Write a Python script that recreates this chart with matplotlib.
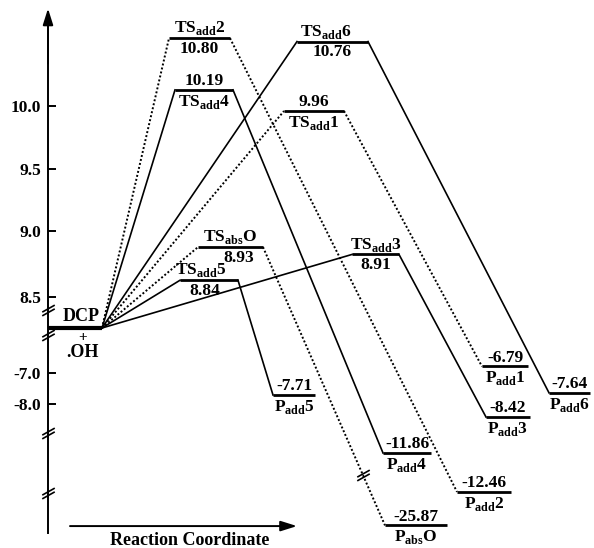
import numpy as np
import matplotlib
matplotlib.use('Agg')
import matplotlib.pyplot as plt
from matplotlib.path import Path
from matplotlib.transforms import blended_transform_factory

plt.rcParams['font.family'] = ['Liberation Serif', 'DejaVu Serif']
plt.rcParams['font.weight'] = 'bold'
plt.rcParams['mathtext.fontset'] = 'custom'
plt.rcParams['mathtext.rm'] = 'Liberation Serif:bold'
plt.rcParams['mathtext.bf'] = 'Liberation Serif:bold'
plt.rcParams['axes.unicode_minus'] = False

# Relative energies (kcal/mol) with respect to DCP + .OH
reactant_energy = 0.0
paths = ['add2', 'add4', 'add6', 'add1', 'absO', 'add5', 'add3']
ts_names = [r'TS$_{\rm add}$2', r'TS$_{\rm add}$4', r'TS$_{\rm add}$6', r'TS$_{\rm add}$1',
            r'TS$_{\rm abs}$O', r'TS$_{\rm add}$5', r'TS$_{\rm add}$3']
p_names = [r'P$_{\rm add}$2', r'P$_{\rm add}$4', r'P$_{\rm add}$6', r'P$_{\rm add}$1',
           r'P$_{\rm abs}$O', r'P$_{\rm add}$5', r'P$_{\rm add}$3']
ts_energy = [10.80, 10.19, 10.76, 9.96, 8.93, 8.84, 8.91]
p_energy = [-12.46, -11.86, -7.64, -6.79, -25.87, -7.71, -8.42]
ytick_values = [10.0, 9.5, 9.0, 8.5, -7.0, -8.0]
ytick_labels = ['10.0', '9.5', '9.0', '8.5', '-7.0', '-8.0']

# layout: name above the TS level (else the value), dotted or solid path, x spans
ts_name_above = [True, False, True, False, True, True, True]
dotted = [True, False, False, True, True, False, False]
ts_span = [(169, 230), (175, 233), (297, 368), (284, 344), (198, 263), (180, 238), (352, 399)]
p_span = [(457, 511), (383, 431), (549, 590), (482, 528), (385, 447), (273, 315), (486, 530)]
# small horizontal nudges (points) of the upper / lower TS labels to keep them apart
ts_dx_above = [0, 0, -5, 0, 0, -6, 0]
ts_dx_below = [0, 0, 0, 0, 6, -3, 0]
dcp_span = (48, 102)

# broken, schematic energy axis: piecewise linear scale (energy -> pixel from top)
scale_e = np.array([-60.0, -27.0, -25.5, -12.6, -11.7, -8.5, -6.6, 0.0,
                    8.3, 8.5, 8.8, 8.96, 10.0, 11.25, 20.0])
scale_px = np.array([1208, 548, 518, 501, 442.6, 419.5, 360.6, 328,
                     310, 297, 295, 236, 106, 0, -742])


def fwd(e):
    return -np.interp(e, scale_e, scale_px)


def inv(v):
    return np.interp(-v, scale_px[::-1], scale_e[::-1])


fig = plt.figure(figsize=(5.94, 5.48), dpi=100)
ax = fig.add_axes([0, 0, 1, 1])
ax.set_yscale('function', functions=(fwd, inv))
ax.set_xlim(0, 594)
ax.set_ylim(-27.0, 11.25)
for s in ['top', 'right', 'bottom']:
    ax.spines[s].set_visible(False)
ax.spines['left'].set_position(('data', 48))
ax.spines['left'].set_bounds(-26.25, 11.0)
ax.spines['left'].set_linewidth(1.4)
ax.set_xticks([])
ax.set_yticks(ytick_values, ytick_labels)
ax.minorticks_off()
ax.tick_params(axis='y', direction='in', length=6, width=1.4, pad=5, labelsize=12.5)

arrow_kw = dict(arrowstyle='-|>,head_length=0.7,head_width=0.22', color='k', lw=1.4,
                mutation_scale=14, shrinkA=0, shrinkB=0)
ax.annotate('', xy=(48, 11.15), xytext=(48, 10.5), arrowprops=arrow_kw)
ax.annotate('', xy=(297, 0.04), xytext=(70, 0.04), xycoords=('data', 'axes fraction'),
            textcoords=('data', 'axes fraction'), arrowprops=arrow_kw)
ax.text(190, 0.014, 'Reaction Coordinate', transform=blended_transform_factory(ax.transData, ax.transAxes),
        ha='center', va='center', fontsize=13)

# reactant level
ax.plot(dcp_span, [reactant_energy] * 2, color='k', lw=3, solid_capstyle='butt', zorder=4)
dcp_x = np.mean(dcp_span)
ax.annotate('DCP', (dcp_x, reactant_energy), xytext=(4.3, 2), textcoords='offset points',
            ha='center', va='bottom', fontsize=13)
ax.annotate('+', (dcp_x, reactant_energy), xytext=(5.5, -7.2), textcoords='offset points',
            ha='center', va='center', fontsize=11)
ax.annotate('.OH', (dcp_x, reactant_energy), xytext=(5.5, -20.6), textcoords='offset points',
            ha='center', va='baseline', fontsize=13)

for i in range(len(paths)):
    if dotted[i]:
        line_kw = dict(ls=(0, (1, 1.1)), lw=1.4)
    else:
        line_kw = dict(ls='-', lw=1.2)
    ts_l, ts_r = ts_span[i]
    p_l, p_r = p_span[i]
    ax.plot([dcp_span[1], ts_l], [reactant_energy, ts_energy[i]], color='k', zorder=2, **line_kw)
    ax.plot([ts_r, p_l], [ts_energy[i], p_energy[i]], color='k', zorder=2, **line_kw)
    ax.plot([ts_l, ts_r], [ts_energy[i]] * 2, color='k', lw=2, solid_capstyle='butt', zorder=3)
    ax.plot([p_l, p_r], [p_energy[i]] * 2, color='k', lw=2, solid_capstyle='butt', zorder=3)

    ts_c = (ts_l + ts_r) / 2
    value = f'{ts_energy[i]:.2f}'
    above, below = (ts_names[i], value) if ts_name_above[i] else (value, ts_names[i])
    ax.annotate(above, (ts_c, ts_energy[i]), xytext=(ts_dx_above[i], 0.6), textcoords='offset points',
                ha='center', va='bottom', fontsize=12.5)
    ax.annotate(below, (ts_c, ts_energy[i]), xytext=(ts_dx_below[i], -2), textcoords='offset points',
                ha='center', va='top', fontsize=12.5)

    p_c = (p_l + p_r) / 2
    ax.annotate(f'{p_energy[i]:.2f}', (p_c, p_energy[i]), xytext=(0, 0.6), textcoords='offset points',
                ha='center', va='bottom', fontsize=12.5)
    ax.annotate(p_names[i], (p_c, p_energy[i]), xytext=(0, -2), textcoords='offset points',
                ha='center', va='top', fontsize=12.5)

# axis break marks
brk = Path([(-0.5, -0.43), (0.5, 0.13), (-0.5, -0.13), (0.5, 0.43)],
           [Path.MOVETO, Path.LINETO, Path.MOVETO, Path.LINETO])
brk_kw = dict(marker=brk, ms=9, mec='k', mfc='none', mew=1.2, ls='none', zorder=5)
axis_breaks = [0.434, 0.389, 0.210, 0.100]
ax.plot([48] * len(axis_breaks), axis_breaks,
        transform=blended_transform_factory(ax.transData, ax.transAxes), **brk_kw)

# break on the long P_absO connector
k = paths.index('absO')
a = ax.transData.transform((ts_span[k][1], ts_energy[k]))
b = ax.transData.transform((p_span[k][0], p_energy[k]))
mid = ax.transData.inverted().transform(a + 0.82 * (b - a))
ax.plot([mid[0]], [mid[1]], **brk_kw)

fig.savefig('out.png', dpi=100)
